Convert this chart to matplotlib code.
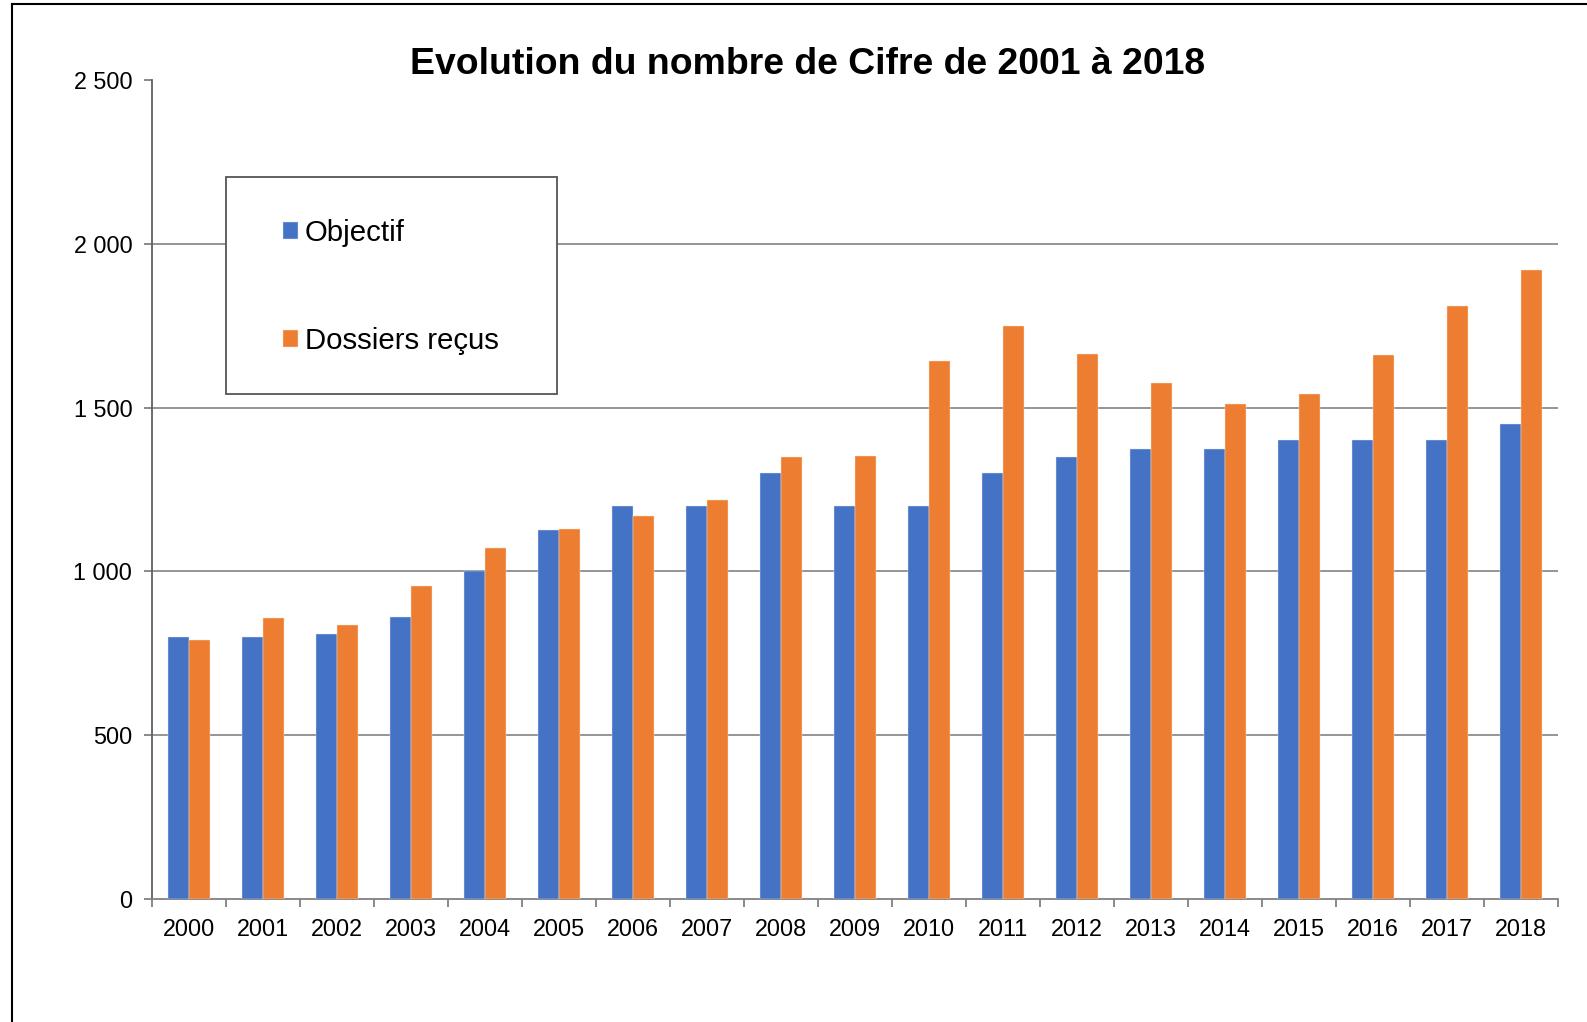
import matplotlib
matplotlib.use("Agg")
import matplotlib.pyplot as plt
import numpy as np
from matplotlib.ticker import FuncFormatter, FixedLocator
from matplotlib.lines import Line2D
from matplotlib.patches import Rectangle

plt.rcParams['font.family'] = ['Liberation Sans', 'DejaVu Sans']

years = [str(y) for y in range(2000, 2019)]
objectif = [800, 800, 810, 860, 1000, 1125, 1200, 1200, 1300, 1200,
            1200, 1300, 1350, 1375, 1375, 1400, 1400, 1400, 1450]
dossiers = [790, 857, 835, 955, 1070, 1130, 1170, 1217, 1350, 1353,
            1642, 1750, 1665, 1575, 1510, 1540, 1660, 1810, 1920]
series_names = ["Objectif", "Dossiers reçus"]
title = "Evolution du nombre de Cifre de 2001 à 2018"

W, H = 1587, 1022
fig = plt.figure(figsize=(W / 100, H / 100), dpi=100)
ax = fig.add_axes([151.7 / W, 1 - 899 / H, (1558 - 151.7) / W, (899 - 80) / H])

x = np.arange(len(years))
bw = 0.2857
c1, c2 = "#4472C4", "#ED7D31"
ax.bar(x - bw / 2, objectif, bw, color=c1, edgecolor="#dfe6f5", linewidth=0.3, label=series_names[0], zorder=3)
ax.bar(x + bw / 2, dossiers, bw, color=c2, edgecolor="#fbe3d3", linewidth=0.3, label=series_names[1], zorder=3)

ax.set_xlim(-0.5, len(years) - 0.5)
ax.set_ylim(0, 2500)
ax.set_yticks([0, 500, 1000, 1500, 2000, 2500])
ax.yaxis.set_major_formatter(FuncFormatter(lambda v, p: f"{int(v):,}".replace(",", " ")))
ax.set_xticks(x)
ax.set_xticklabels(years)
ax.xaxis.set_minor_locator(FixedLocator(np.arange(-0.5, len(years), 1.0)))
ax.tick_params(axis="x", which="major", length=0, pad=14, labelsize=16.8)
ax.tick_params(axis="x", which="minor", length=6, width=1.3, color="#808080", direction="out")
ax.tick_params(axis="y", which="major", length=6, width=1.3, color="#808080", pad=8, labelsize=16.8)

ax.yaxis.grid(True, color="#8c8c8c", linewidth=1.3, zorder=0)
gl = ax.get_ygridlines()
gl[0].set_visible(False)
gl[-1].set_visible(False)
ax.set_axisbelow(True)

for s in ["top", "right"]:
    ax.spines[s].set_visible(False)
ax.spines["left"].set_color("#606060")
ax.spines["left"].set_linewidth(1.3)
ax.spines["bottom"].set_color("#808080")
ax.spines["bottom"].set_linewidth(1.3)

fig.text(807.6 / W, 1 - 64 / H, title, ha="center", va="center", fontsize=26.9, fontweight="bold")

# legend box
fig.patches.append(Rectangle((225.7 / W, 1 - 394 / H), (557.3 - 225.7) / W, (394 - 177) / H,
                             transform=fig.transFigure, facecolor="white", edgecolor="#555555",
                             linewidth=1.3, zorder=5))
leg = fig.legend(loc="center left", bbox_to_anchor=(283 / W, 1 - 287 / H), frameon=False,
                 fontsize=21.2, handlelength=0.5, handleheight=0.5, handletextpad=0.25,
                 labelspacing=2.7, borderpad=0, borderaxespad=0)
leg.set_zorder(6)

# outer frame (left and top)
fig.add_artist(Line2D([12 / W, 12 / W], [0, 1 - 4 / H], transform=fig.transFigure, color="black", linewidth=1.5))
fig.add_artist(Line2D([12 / W, 1], [1 - 4 / H, 1 - 4 / H], transform=fig.transFigure, color="black", linewidth=1.5))

fig.savefig("out.png", dpi=100)
